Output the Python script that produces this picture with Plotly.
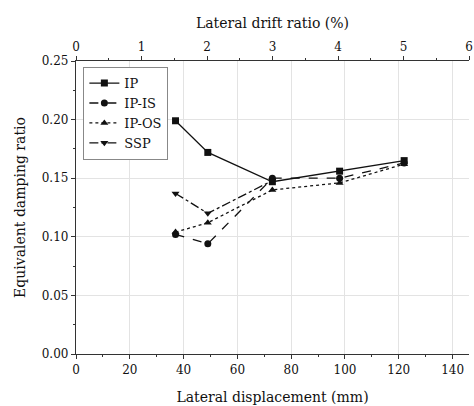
import plotly.graph_objects as go

# Lateral displacement (mm) at each loading stage
disp_ip = [37, 49, 73, 98, 122]
disp_ssp = [37, 49, 73]

# Equivalent damping ratio per specimen
damp_ip = [0.199, 0.172, 0.147, 0.156, 0.165]
damp_ip_is = [0.102, 0.094, 0.150, 0.150, 0.163]
damp_ip_os = [0.104, 0.112, 0.140, 0.146, 0.162]
damp_ssp = [0.137, 0.120, 0.148]

# Top-axis scale: drift ratio (%) corresponding to displacement range
drift_max = 6.0
mm_per_percent = 24.35

FONT = "DejaVu Serif"
INK = "#111111"

fig = go.Figure()

series = [
    ("IP", disp_ip, damp_ip, "solid", "square"),
    ("IP-IS", disp_ip, damp_ip_is, "dash", "circle"),
    ("IP-OS", disp_ip, damp_ip_os, "dot", "triangle-up"),
    ("SSP", disp_ssp, damp_ssp, "dashdot", "triangle-down"),
]
for name, xs, ys, dash, sym in series:
    fig.add_trace(go.Scatter(
        x=xs, y=ys, name=name, mode="lines+markers",
        line=dict(color=INK, width=1.3, dash=dash),
        marker=dict(symbol=sym, size=7, color=INK),
    ))

# Invisible trace that anchors the secondary (top) axis
fig.add_trace(go.Scatter(x=[0, drift_max], y=[None, None], xaxis="x2",
                         showlegend=False, hoverinfo="skip"))

axis_common = dict(
    showline=True, linecolor="#333333", linewidth=1.3,
    ticks="outside", ticklen=4, tickcolor="#333333", tickwidth=1.2,
    tickfont=dict(family=FONT, size=12, color=INK),
    ticklabeloverflow="allow",
    zeroline=False,
)
TITLE_FONT = dict(family=FONT, size=14, color=INK)

fig.update_layout(
    width=474, height=406,
    margin=dict(l=76, r=1, t=61, b=52),
    plot_bgcolor="white", paper_bgcolor="white",
    font=dict(family=FONT, color=INK),
    xaxis=dict(
        range=[0, drift_max * mm_per_percent], dtick=20, tick0=0,
        showgrid=True, gridcolor="#e3e3e3", gridwidth=1,
        minor=dict(dtick=10, ticks="outside", ticklen=2, tickcolor="#333333", showgrid=False),
        title=dict(text="Lateral displacement (mm)", font=TITLE_FONT, standoff=16),
        **axis_common,
    ),
    xaxis2=dict(
        overlaying="x", side="top", range=[0, drift_max], dtick=1, tick0=0,
        showgrid=False,
        minor=dict(dtick=0.5, ticks="outside", ticklen=2, tickcolor="#333333"),
        title=dict(text="Lateral drift ratio (%)", font=TITLE_FONT, standoff=8),
        **axis_common,
    ),
    yaxis=dict(
        range=[0, 0.25], dtick=0.05, tickformat=".2f",
        showgrid=True, gridcolor="#e3e3e3", gridwidth=1,
        minor=dict(dtick=0.025, ticks="outside", ticklen=2, tickcolor="#333333", showgrid=False),
        title=dict(text="Equivalent damping ratio", font=TITLE_FONT, standoff=12),
        **axis_common,
    ),
    legend=dict(
        x=0.018, y=0.98, xanchor="left", yanchor="top",
        bgcolor="white", bordercolor="#888888", borderwidth=1.3,
        font=dict(family=FONT, size=13, color=INK),
        tracegroupgap=4,
    ),
    showlegend=True,
)

fig.write_html("out.html")
